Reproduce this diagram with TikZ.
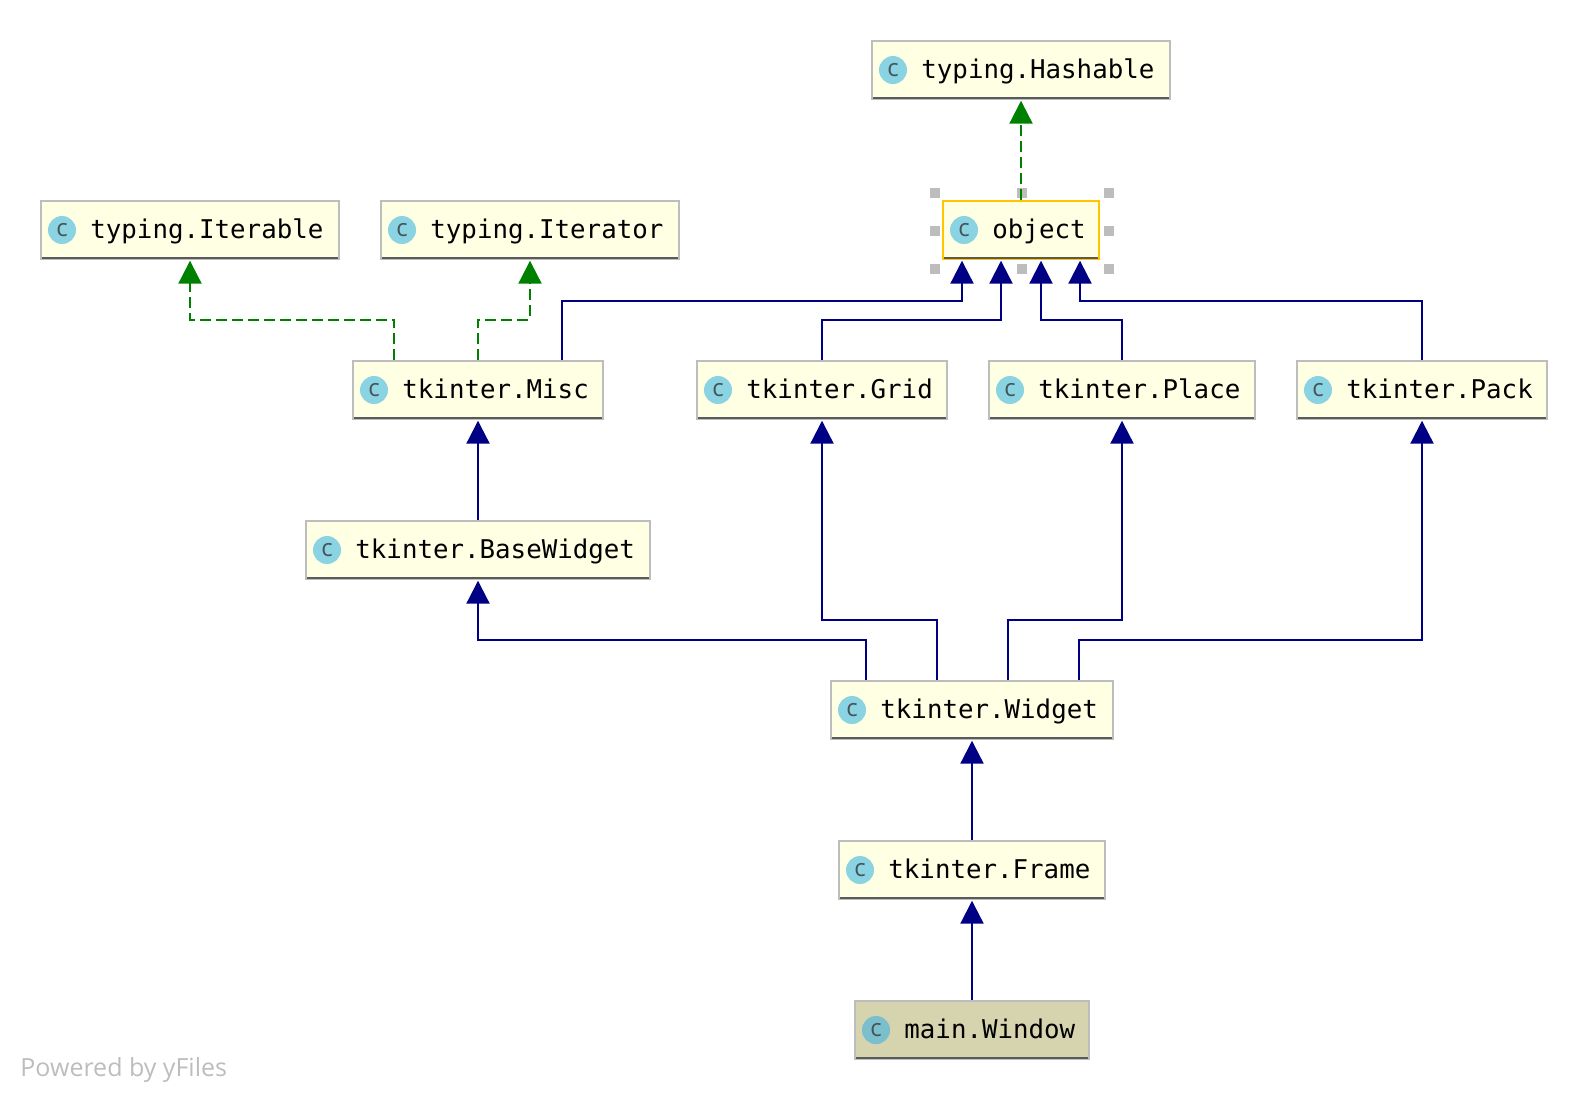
\documentclass[tikz,border=0pt]{standalone}
\usepackage{fontspec}
\setmonofont{DejaVu Sans Mono}
\setsansfont{Open Sans}
\usetikzlibrary{arrows.meta}
\definecolor{boxfill}{HTML}{FFFFE4}
\definecolor{mainfill}{HTML}{D6D4AE}
\definecolor{boxedge}{HTML}{BDBDBD}
\definecolor{baseline}{HTML}{5A5A5A}
\definecolor{selectedge}{HTML}{FFC600}
\definecolor{iconfill}{HTML}{8AD3E3}
\definecolor{mainicon}{HTML}{7CBFCC}
\definecolor{iconglyph}{HTML}{46545A}
\definecolor{inhblue}{HTML}{000085}
\definecolor{implgreen}{HTML}{008000}
\tikzset{
  classbox/.style={draw=boxedge,fill=boxfill,line width=1pt,minimum height=28.7pt,inner sep=0pt},
  mainbox/.style={classbox,fill=mainfill},
  selectbox/.style={classbox,draw=selectedge},
  classicon/.style={circle,fill=iconfill,minimum size=14pt,inner sep=0pt,text=iconglyph,font=\sffamily\fontsize{12}{12}\selectfont},
  classtext/.style={anchor=base west,inner sep=0pt,font=\ttfamily\fontsize{12.9}{14}\selectfont},
  classbase/.style={draw=baseline,line width=1.1pt},
  handle/.style={fill=boxedge},
  inherits/.style={draw=inhblue,line width=1.1pt,shorten >=0.5pt,-{Triangle[length=11.5pt,width=11.5pt]}},
  implements/.style={draw=implgreen,line width=1.1pt,dash pattern=on 5.5pt off 2.5pt,shorten >=0.5pt,-{Triangle[length=11.5pt,width=11.5pt,fill=implgreen]}},
}
\begin{document}
\begin{tikzpicture}[x=0.5pt,y=-0.5pt]
  % 1 unit = 1 pixel of the reference, y runs downwards
  \useasboundingbox (0,0) rectangle (1588,1100);
  % Handles round the selected class
  \foreach \hx/\hy in {935/193, 1022/193, 1109/193, 935/231, 1109/231, 935/269, 1022/269, 1109/269} {
    \fill[handle] (\hx-5,\hy-5) rectangle (\hx+5,\hy+5);
  }
  % Classes: name, centre x, centre y, width, text, style
  \foreach \id/\cx/\cy/\w/\lab/\sty in {%
    hashable/1021/70/298/typing.Hashable/classbox,
    iterable/190/230/298/typing.Iterable/classbox,
    iterator/530/230/298/typing.Iterator/classbox,
    object/1021/230/156/object/selectbox,
    misc/478/390/250/tkinter.Misc/classbox,
    grid/822/390/250/tkinter.Grid/classbox,
    place/1122/390/266/tkinter.Place/classbox,
    pack/1422/390/250/tkinter.Pack/classbox,
    basewidget/478/550/344/tkinter.BaseWidget/classbox,
    widget/972/710/282/tkinter.Widget/classbox,
    frame/972/870/266/tkinter.Frame/classbox,
    window/972/1030/234/main.Window/mainbox} {
    \node[\sty,minimum width=\w*0.5pt] (\id) at (\cx,\cy) {};
    \draw[classbase] ([xshift=1pt,yshift=1pt]\id.south west) -- ([xshift=-1pt,yshift=1pt]\id.south east);
    \node[classicon] (\id-icon) at ([xshift=11pt]\id.west) {c};
    \node[classtext] (\id-text) at ([xshift=25pt,yshift=-4pt]\id.west) {\lab};
  }
  \node[classicon,fill=mainicon] (window-icon) at ([xshift=11pt]window.west) {c};
  % Straight edges
  \draw[implements] (object.north) -- (hashable.south);
  \foreach \src/\dst in {basewidget/misc, frame/widget, window/frame} {
    \draw[inherits] (\src.north) -- (\dst.south);
  }
  % Bent edges: source, shift at source, target, shift at target, bend below target
  \foreach \src/\fx/\dst/\tx/\bend in {%
    misc/-42/iterable/0/-30, misc/0/iterator/0/-30} {
    \draw[implements] ([xshift=\fx pt]\src.north) |- ([xshift=\tx pt,yshift=\bend pt]\dst.south) -- ([xshift=\tx pt]\dst.south);
  }
  \foreach \src/\fx/\dst/\tx/\bend in {%
    misc/42/object/-29.5/-20.5, grid/0/object/-10/-30,
    place/0/object/10/-30, pack/0/object/29.5/-20.5,
    widget/-53/basewidget/0/-30, widget/-17.5/grid/0/-100,
    widget/18/place/0/-100, widget/53.5/pack/0/-110} {
    \draw[inherits] ([xshift=\fx pt]\src.north) |- ([xshift=\tx pt,yshift=\bend pt]\dst.south) -- ([xshift=\tx pt]\dst.south);
  }
  % Watermark
  \node[anchor=base west,inner sep=0pt,text=boxedge,font=\sffamily\fontsize{12.5}{14}\selectfont] (powered) at (20,1076) {Powered by yFiles};
\end{tikzpicture}
\end{document}
